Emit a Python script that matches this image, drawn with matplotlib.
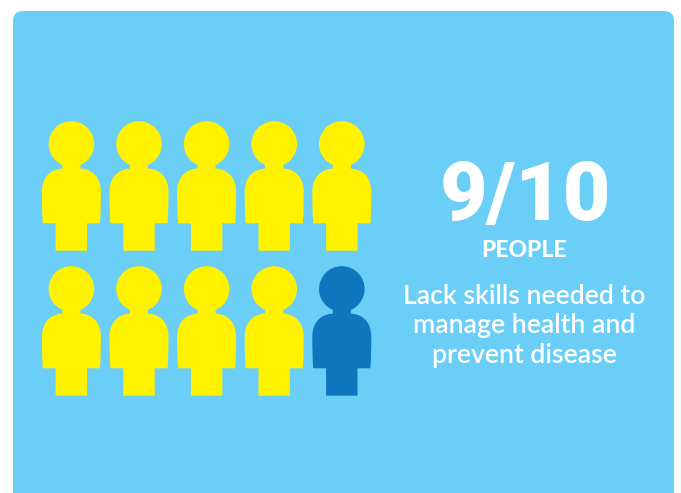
import matplotlib
matplotlib.use("Agg")
import matplotlib.pyplot as plt
from matplotlib.patches import Circle, FancyBboxPatch, PathPatch
from matplotlib.path import Path

# fraction shown by the pictogram
affected = 9
total = 10
per_row = 5
headline = f"{affected}/{total}"
unit_label = "PEOPLE"
caption = ["Lack skills needed to", "manage health and", "prevent disease"]

PANEL = "#6BCEF7"
YELLOW = "#FFF200"
BLUE = "#0F75BC"

plt.rcParams["font.family"] = ["Lato", "DejaVu Sans"]


def person_path(cx, cy):
    # torso, neck and legs relative to the centre of the head
    verts = [
        (-9, 19), (9, 19), (9, 24.5),
        (22, 25.5), (29.5, 34), (29.5, 48),
        (29.5, 58), (29.3, 70), (28.6, 79.3),
        (15.7, 79.3), (15.7, 106.7), (-15.7, 106.7), (-15.7, 79.3),
        (-28.6, 79.3), (-29.3, 70), (-29.5, 58), (-29.5, 48),
        (-29.5, 34), (-22, 25.5), (-9, 24.5),
        (-9, 19),
    ]
    codes = [
        Path.MOVETO, Path.LINETO, Path.LINETO,
        Path.CURVE4, Path.CURVE4, Path.CURVE4,
        Path.CURVE4, Path.CURVE4, Path.CURVE4,
        Path.LINETO, Path.LINETO, Path.LINETO, Path.LINETO,
        Path.LINETO, Path.CURVE4, Path.CURVE4, Path.CURVE4,
        Path.CURVE4, Path.CURVE4, Path.CURVE4,
        Path.CLOSEPOLY,
    ]
    return Path([(cx + x, cy + y) for x, y in verts], codes)


fig = plt.figure(figsize=(6.81, 4.93), dpi=100)
ax = fig.add_axes([0, 0, 1, 1])
ax.set_xlim(0, 681)
ax.set_ylim(493, 0)
ax.axis("off")

# background card, runs off the bottom edge
ax.add_patch(FancyBboxPatch((13, 11), 661, 520, boxstyle="round,pad=0,rounding_size=10",
                            fc=PANEL, ec="none"))

for i in range(total):
    row, col = divmod(i, per_row)
    cx = 71.4 + col * 67.6
    cy = 144 + row * 145
    color = YELLOW if i < affected else BLUE
    ax.add_patch(Circle((cx, cy), 22.8, fc=color, ec="none"))
    ax.add_patch(PathPatch(person_path(cx, cy), fc=color, ec="none"))

ax.text(525, 220, headline, color="white", family=["Roboto", "DejaVu Sans"], fontsize=59,
        fontweight="black", ha="center", va="baseline")

ax.text(524, 257, unit_label, color="white", fontsize=16.5, fontweight="black",
        ha="center", va="baseline")
for k, line in enumerate(caption):
    ax.text(524.5, 303.5 + k * 30, line, color="white", fontsize=19.2, fontweight="semibold",
            ha="center", va="baseline")

fig.savefig("out.png", dpi=100)
